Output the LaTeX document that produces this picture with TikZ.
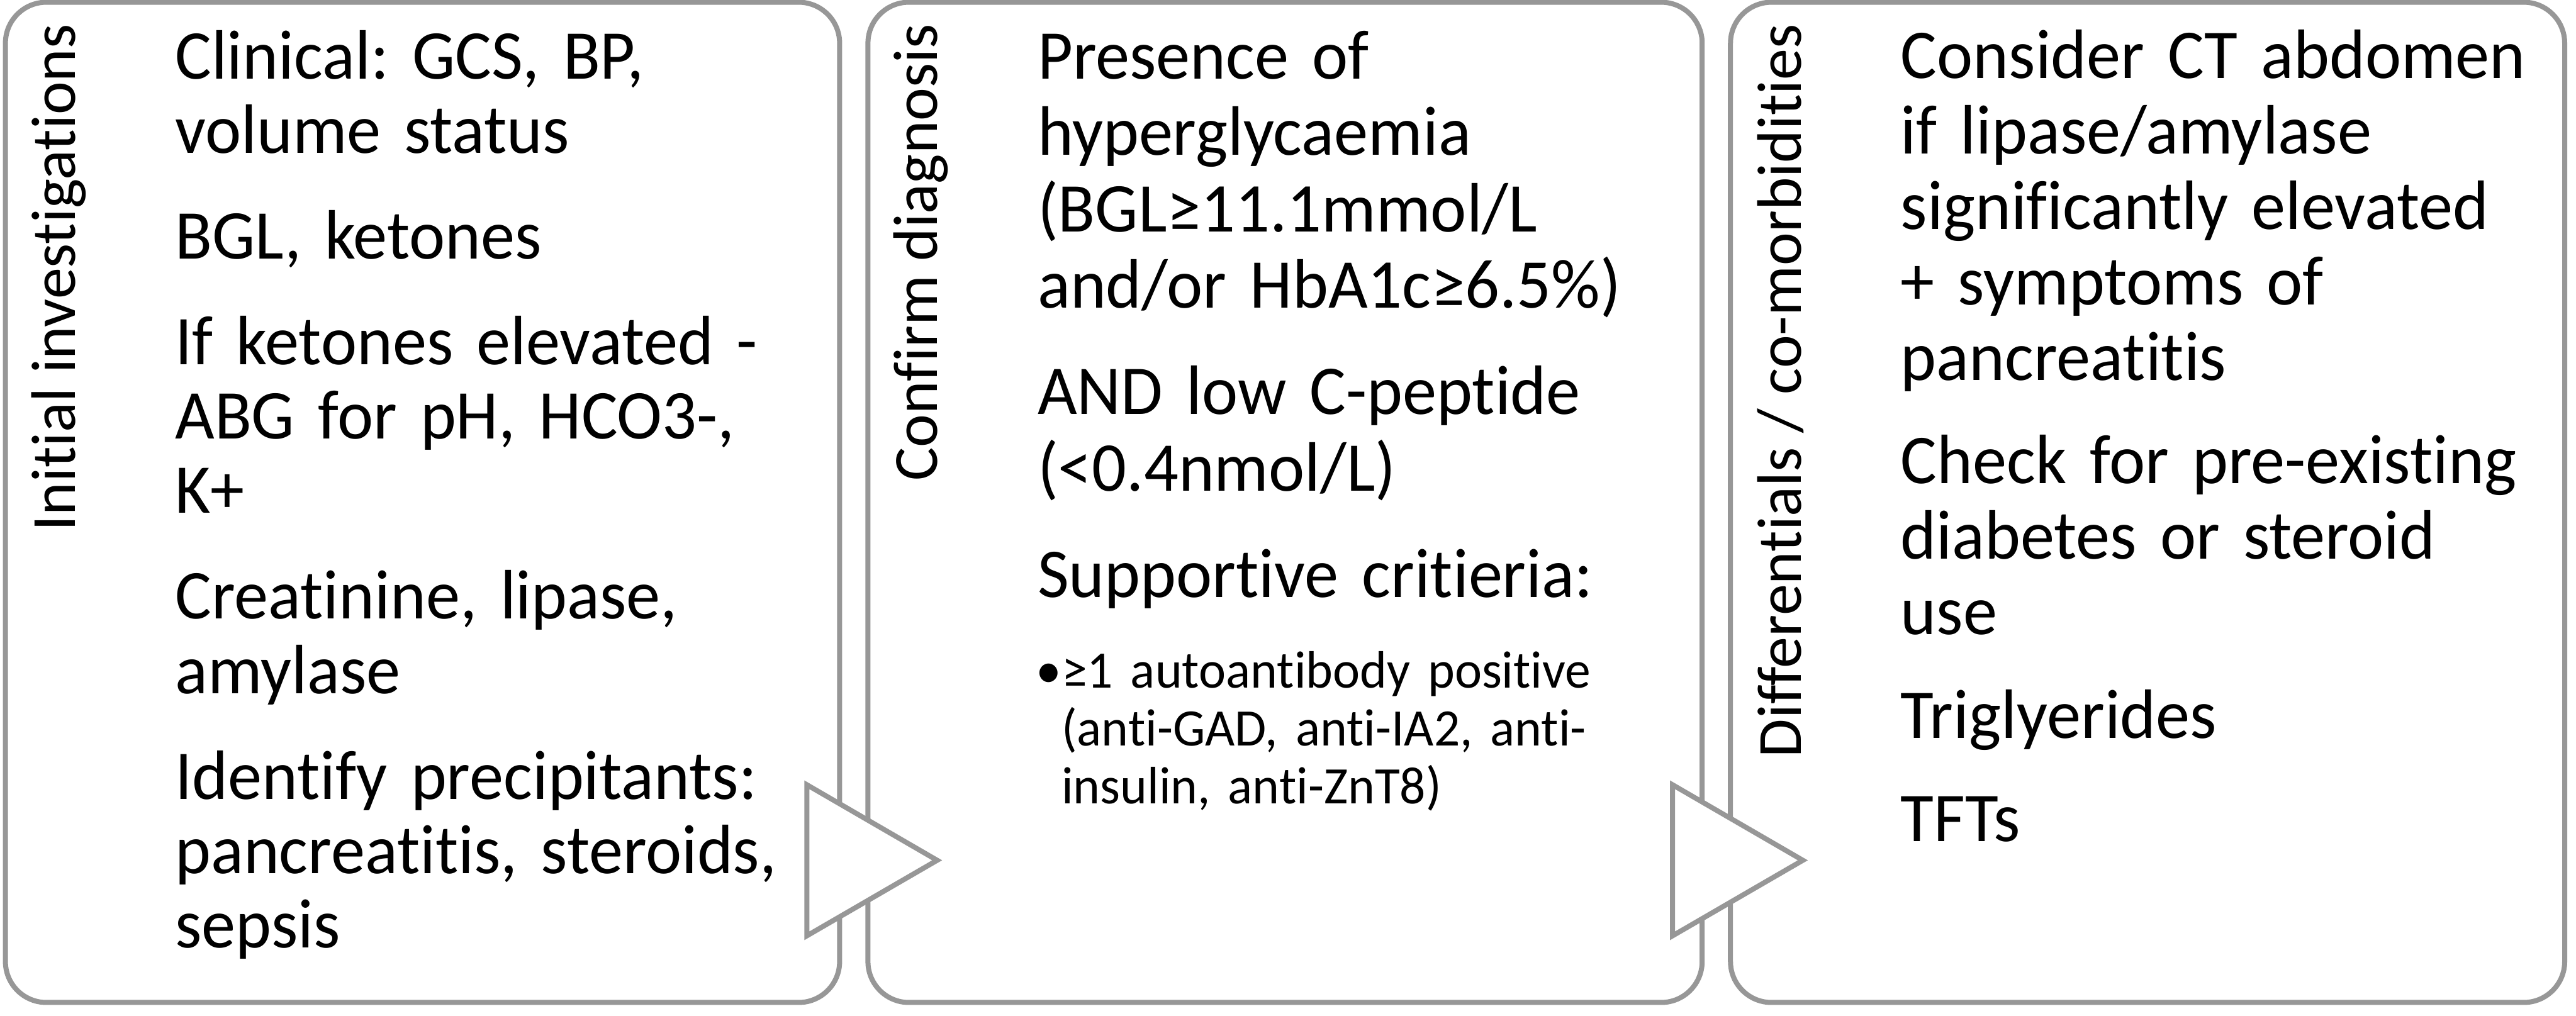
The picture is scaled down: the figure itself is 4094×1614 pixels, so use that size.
\documentclass[tikz,border=0pt]{standalone}
\usepackage{fontspec}
\setmainfont{Carlito}[Ligatures={TeX,NoCommon}]
\newfontfamily\bodyfont{Carlito}[Ligatures={TeX,NoCommon},FakeStretch=0.975]
\frenchspacing
\usetikzlibrary{positioning,calc}
\definecolor{edgegray}{RGB}{151,151,151}

\begin{document}
\begin{tikzpicture}[x=0.01cm,y=-0.01cm,
  stage/.style={draw=edgegray,line width=0.08cm,fill=white,rounded corners=0.65cm,
    minimum width=13.25cm,minimum height=15.89cm,inner sep=0pt,outer sep=0pt},
  steplabel/.style={rotate=90,anchor=base east,inner sep=0pt,font=\fontsize{28.45}{30}\selectfont},
  body/.style={anchor=base west,inner sep=0pt,text width=11.5cm,align=left,
    font=\bodyfont\fontsize{31.6}{#1}\selectfont},
  small/.style={anchor=base west,inner sep=0pt,text width=10cm,align=left,
    font=\bodyfont\fontsize{23.8}{26.2}\selectfont},
  chevron/.style={draw=edgegray,line width=0.08cm,fill=white,line join=miter}]
\useasboundingbox (0,0) rectangle (4094,1614);
%\draw[step=100,gray,very thin] (0,0) grid (4094,1614);

% the three stages
\node[stage] (box1) at (671.5,798.5) {};
\node[stage,right=0.45cm of box1] (box2) {};
\node[stage,right=0.45cm of box2] (box3) {};

% arrows between the stages
\draw[chevron] ($(box1.south east)+(-52,-346)$) -- ++(207,120) -- ++(-207,120) -- cycle;
\draw[chevron] ($(box2.south east)+(-47,-346)$) -- ++(207,120) -- ++(-207,120) -- cycle;

% stage titles
\node[steplabel] (lab1) at ($(box1.north west)+(111,34)$) {Initial investigations};
\node[steplabel] (lab2) at ($(box2.north west)+(110,34)$) {Confirm diagnosis};
\node[steplabel] (lab3) at ($(box3.north west)+(112,34)$) {Differentials / co-morbidities};

% stage contents
\node[body=33.57pt] (txt1) at ($(box1.north west)+(269,122)$) {Clinical: GCS, BP,\\ volume status\\[0.5cm]
  BGL, ketones\\[0.5cm]
  If ketones elevated -\\ ABG for pH, HCO3-,\\ K+\\[0.5cm]
  Creatinine, lipase,\\ amylase\\[0.5cm]
  Identify precipitants:\\ pancreatitis, steroids,\\ sepsis};
\node[body=34.5pt] (txt2) at ($(box2.north west)+(269,122)$) {Presence of\\ hyperglycaemia\\ (BGL≥11.1mmol/L\\ and/or HbA1c≥6.5\%)\\[0.48cm]
  AND low C-peptide\\ (<0.4nmol/L)\\[0.48cm]
  Supportive critieria:};
\node[small] (sup2) at ($(box2.north west)+(307,1090)$) {\llap{•}≥1 autoantibody positive\\
  (anti-GAD, anti-IA2, anti-\\ insulin, anti-ZnT8)};
\node[body=34.14pt] (txt3) at ($(box3.north west)+(270,121)$) {Consider CT abdomen\\ if lipase/amylase\\ significantly elevated\\ + symptoms of\\ pancreatitis\\[0.44cm]
  Check for pre-existing\\ diabetes or steroid\\ use\\[0.44cm]
  Triglyerides\\[0.44cm]
  TFTs};
\end{tikzpicture}
\end{document}
